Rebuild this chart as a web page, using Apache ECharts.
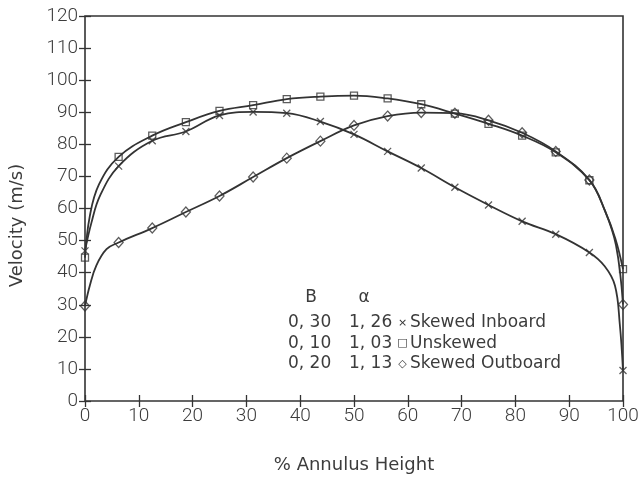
<!DOCTYPE html>
<html>
<head>
<meta charset="utf-8">
<script src="https://cdn.jsdelivr.net/npm/echarts@6/dist/echarts.min.js"></script>
<style>html,body{margin:0;padding:0;background:#fff;}#c{width:644px;height:479px;}</style>
</head>
<body>
<div id="c"></div>
<script>
// ---- data ----
var xPts = [0, 6.25, 12.5, 18.75, 25, 31.25, 37.5, 43.75, 50, 56.25, 62.5, 68.75, 75, 81.25, 87.5, 93.75, 100];
var inboardY   = [46.8, 73.2, 81.1, 84.0, 89.0, 90.1, 89.7, 87.1, 83.1, 77.8, 72.6, 66.6, 61.1, 56.0, 52.0, 46.3, 9.5];
var unskewedY  = [44.7, 76.1, 82.7, 86.9, 90.4, 92.2, 94.1, 94.9, 95.2, 94.3, 92.5, 89.6, 86.4, 82.7, 77.5, 68.8, 41.1];
var outboardY  = [29.6, 49.4, 53.9, 58.9, 63.9, 69.8, 75.7, 81.0, 85.9, 88.8, 89.9, 89.7, 87.5, 83.6, 77.8, 68.9, 30.1];
// extra points read along the drawn curves near the walls (no markers there)
var inboardCurveExtra  = [[1.2, 55.6], [2.8, 64.0], [96.6, 42.0], [98.5, 36.0], [99.4, 24.0]];
var unskewedCurveExtra = [[0.9, 57.7], [2.6, 67.5], [96.6, 59.5], [98.6, 50.5]];
var outboardCurveExtra = [[0.9, 36.0], [2.1, 42.2], [4.0, 47.3], [96.6, 59.5], [98.7, 48.5]];

var xTicks = [0, 10, 20, 30, 40, 50, 60, 70, 80, 90, 100];
var yTicks = [0, 10, 20, 30, 40, 50, 60, 70, 80, 90, 100, 110, 120];

var legendHeader = ['B', '\u03B1'];
var legendB      = ['0, 30', '0, 10', '0, 20'];
var legendAlpha  = ['1, 26', '1, 03', '1, 13'];
var legendMark   = ['\u00D7', '\u25A1', '\u25C7'];
var legendName   = ['Skewed Inboard', 'Unskewed', 'Skewed Outboard'];

var xName = '% Annulus Height';
var yName = 'Velocity (m/s)';

// ---- build ----
function pairs(ys) { return xPts.map(function (x, i) { return [x, ys[i]]; }); }
function curve(ys, extra) {
  return pairs(ys).concat(extra).sort(function (a, b) { return a[0] - b[0]; });
}
var INK = '#333';
var TXT = '#3c3c3c';
var FONT = 'Roboto';
var LFONT = 'DejaVu Sans';
var crossPath = 'path://M0,0L10,10M10,0L0,10';

function lineSeries(data) {
  return {
    type: 'line', data: data, smooth: 0.4, showSymbol: false,
    lineStyle: { color: INK, width: 1.8 }, silent: true, z: 2
  };
}
function markSeries(data, symbol, size) {
  return {
    type: 'scatter', data: data, symbol: symbol, symbolSize: size,
    itemStyle: { color: 'rgba(0,0,0,0)', borderColor: INK, borderWidth: 1.3 }, z: 3
  };
}

var graphics = [];
var lx = { b: 288, a: 349, m: 402.5, n: 410 };
var rowY = [323, 343.5, 364];
var lf = '17px ' + LFONT;
graphics.push({ type: 'text', x: 311, y: 298, style: { text: legendHeader[0], font: lf, fill: TXT, align: 'center', verticalAlign: 'middle' } });
graphics.push({ type: 'text', x: 364, y: 298, style: { text: legendHeader[1], font: lf, fill: TXT, align: 'center', verticalAlign: 'middle' } });
for (var i = 0; i < 3; i++) {
  graphics.push({ type: 'text', x: lx.b, y: rowY[i], style: { text: legendB[i], font: lf, fill: TXT, verticalAlign: 'middle' } });
  graphics.push({ type: 'text', x: lx.a, y: rowY[i], style: { text: legendAlpha[i], font: lf, fill: TXT, verticalAlign: 'middle' } });
  graphics.push({ type: 'text', x: lx.m, y: rowY[i], style: { text: legendMark[i], font: '11px DejaVu Sans', fill: INK, align: 'center', verticalAlign: 'middle' } });
  graphics.push({ type: 'text', x: lx.n, y: rowY[i], style: { text: legendName[i], font: lf, fill: TXT, verticalAlign: 'middle' } });
}

var axisLabelStyle = { color: TXT, fontFamily: FONT, fontWeight: 300, fontSize: 19 };

var option = {
  backgroundColor: '#fff',
  animation: false,
  grid: { left: 83.5, right: 21, top: 16, bottom: 76, show: true, borderColor: INK, borderWidth: 1.6, backgroundColor: 'transparent' },
  xAxis: [
    { type: 'value', min: xTicks[0], max: xTicks[xTicks.length - 1], interval: 10, position: 'bottom',
      axisLine: { show: false }, splitLine: { show: false },
      axisTick: { show: true, inside: true, length: 6, lineStyle: { color: INK, width: 1.3 } },
      axisLabel: Object.assign({ margin: 6 }, axisLabelStyle),
      name: xName, nameLocation: 'middle', nameGap: 55,
      nameTextStyle: { color: TXT, fontFamily: LFONT, fontSize: 18 } },
    { type: 'value', min: 0, max: 100, interval: 10, position: 'top',
      axisLine: { show: false }, splitLine: { show: false }, axisLabel: { show: false },
      axisTick: { show: true, inside: true, length: 6, lineStyle: { color: INK, width: 1.3 } } }
  ],
  yAxis: [
    { type: 'value', min: yTicks[0], max: yTicks[yTicks.length - 1], interval: 10, position: 'left',
      axisLine: { show: false }, splitLine: { show: false },
      axisTick: { show: true, inside: true, length: 6, lineStyle: { color: INK, width: 1.3 } },
      axisLabel: Object.assign({ margin: 7 }, axisLabelStyle),
      name: yName, nameLocation: 'middle', nameGap: 59,
      nameTextStyle: { color: TXT, fontFamily: LFONT, fontSize: 18, padding: [0, 0, 0, -34] } },
    { type: 'value', min: 0, max: 120, interval: 10, position: 'right',
      axisLine: { show: false }, splitLine: { show: false }, axisLabel: { show: false },
      axisTick: { show: true, inside: true, length: 6, lineStyle: { color: INK, width: 1.3 } } }
  ],
  series: [
    lineSeries(curve(inboardY, inboardCurveExtra)),
    lineSeries(curve(unskewedY, unskewedCurveExtra)),
    lineSeries(curve(outboardY, outboardCurveExtra)),
    markSeries(pairs(inboardY), crossPath, 7),
    markSeries(pairs(unskewedY), 'rect', 7),
    markSeries(pairs(outboardY), 'diamond', [9, 10])
  ],
  graphic: graphics
};
var chart = echarts.init(document.getElementById('c'), null, { renderer: 'canvas' });
chart.setOption(option);
</script>
</body>
</html>
